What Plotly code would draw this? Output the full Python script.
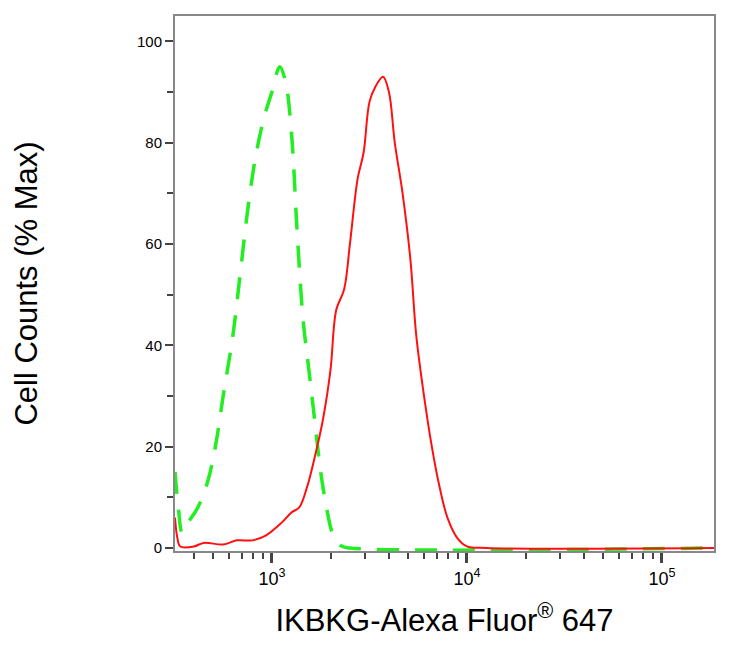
import numpy as np
import plotly.graph_objects as go

# log10 of fluorescence, % max
red_logx = [2.503, 2.515, 2.53, 2.6, 2.65, 2.75, 2.82, 2.9, 2.97, 3.05, 3.1, 3.14, 3.18, 3.22, 3.26,
            3.3, 3.33, 3.37, 3.4, 3.44, 3.47, 3.5, 3.53, 3.57, 3.6, 3.63, 3.67, 3.71, 3.74, 3.78,
            3.82, 3.86, 3.9, 3.95, 4.0, 4.1, 5.27]
red_y = [6, 2, 0.3, 0.3, 1, 0.7, 1.5, 1.5, 2.5, 5, 7, 8, 12, 18, 25,
         35, 47, 51, 60, 73, 78, 88, 91, 93, 90, 80, 70, 57, 42, 30,
         20, 12, 6, 2, 0.3, 0, 0]
green_logx = [2.503, 2.52, 2.54, 2.57, 2.62, 2.67, 2.71, 2.75, 2.8, 2.84, 2.88, 2.92, 2.96, 3.0,
              3.04, 3.07, 3.1, 3.13, 3.16, 3.19, 3.22, 3.25, 3.28, 3.31, 3.35, 3.4, 5.27]
green_y = [15, 8, 3, 5, 8, 13, 20, 30, 42, 55, 68, 78, 85, 90,
           95, 92, 82, 62, 45, 35, 25, 15, 8, 3, 0.5, 0, 0]

fig = go.Figure()
fig.add_trace(go.Scatter(x=10 ** np.array(green_logx), y=green_y, mode="lines",
                         line=dict(color="#22ee22", width=3.5, dash="22px,16px", shape="spline")))
fig.add_trace(go.Scatter(x=10 ** np.array(red_logx), y=red_y, mode="lines",
                         line=dict(color="#ff1010", width=2, shape="spline")))

fig.update_layout(
    width=737, height=662, showlegend=False,
    paper_bgcolor="white", plot_bgcolor="white",
    margin=dict(l=167, r=31, t=8, b=119),
    font=dict(family="Liberation Sans, Arial", color="black"),
)
fig.update_xaxes(
    type="log", range=[2.503, 5.267], automargin=False,
    tickvals=[1e3, 1e4, 1e5], ticktext=["10<sup>3</sup>", "10<sup>4</sup>", "10<sup>5</sup>"],
    ticks="outside", ticklen=10, tickwidth=3, tickfont=dict(size=18),
    minor=dict(ticks="outside", ticklen=6, tickwidth=1.5, showgrid=False,
               tickvals=[k * 10 ** d for d in (2, 3, 4, 5) for k in range(2, 10)]),
    showgrid=False, zeroline=False, showline=True, linecolor="#888", linewidth=2, mirror=True,
    title=dict(text="IKBKG-Alexa Fluor<sup>®</sup> 647", font=dict(size=31), standoff=22),
)
fig.update_yaxes(
    range=[-0.6, 105], tickvals=[0, 20, 40, 60, 80, 100], automargin=False,
    ticks="outside", ticklen=8, tickwidth=2, tickfont=dict(size=15),
    minor=dict(ticks="outside", ticklen=6, tickwidth=1.5, dtick=10),
    showgrid=False, zeroline=False, showline=True, linecolor="#888", linewidth=2, mirror=True,
    title=dict(text="Cell Counts (% Max)", font=dict(size=31), standoff=90),
)

fig.write_html("out.html")
